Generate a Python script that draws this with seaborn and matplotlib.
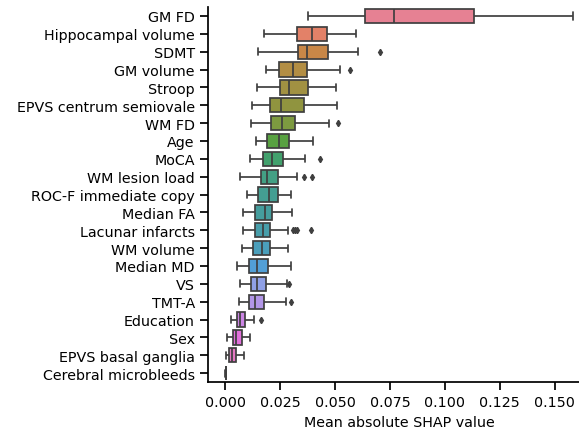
import matplotlib
matplotlib.use("Agg")
import matplotlib.pyplot as plt
import pandas as pd
import seaborn as sns

# Features ordered by importance, with the box-plot summary of their SHAP values
features = [
    "GM FD", "Hippocampal volume", "SDMT", "GM volume", "Stroop",
    "EPVS centrum semiovale", "WM FD", "Age", "MoCA", "WM lesion load",
    "ROC-F immediate copy", "Median FA", "Lacunar infarcts", "WM volume",
    "Median MD", "VS", "TMT-A", "Education", "Sex", "EPVS basal ganglia",
    "Cerebral microbleeds",
]
whisker_low = [0.0378, 0.0176, 0.0150, 0.0185, 0.0145, 0.0120, 0.0117, 0.0140,
               0.0114, 0.0068, 0.0097, 0.0082, 0.0079, 0.0077, 0.0053, 0.0068,
               0.0061, 0.0027, 0.0009, 0.0002, 0.0000]
q1 = [0.0635, 0.0327, 0.0330, 0.0245, 0.0250, 0.0202, 0.0207, 0.0191,
      0.0171, 0.0162, 0.0149, 0.0136, 0.0135, 0.0127, 0.0109, 0.0116,
      0.0108, 0.0052, 0.0034, 0.0017, 0.0001]
median = [0.0767, 0.0395, 0.0370, 0.0309, 0.0288, 0.0253, 0.0259, 0.0245,
          0.0211, 0.0190, 0.0197, 0.0182, 0.0173, 0.0168, 0.0144, 0.0143,
          0.0135, 0.0068, 0.0050, 0.0028, 0.0002]
q3 = [0.1132, 0.0462, 0.0467, 0.0373, 0.0377, 0.0358, 0.0315, 0.0291,
      0.0264, 0.0240, 0.0240, 0.0212, 0.0203, 0.0203, 0.0193, 0.0184,
      0.0177, 0.0088, 0.0075, 0.0049, 0.0003]
whisker_high = [0.1582, 0.0593, 0.0603, 0.0524, 0.0503, 0.0508, 0.0471, 0.0400,
                0.0361, 0.0325, 0.0299, 0.0303, 0.0287, 0.0285, 0.0299, 0.0281,
                0.0276, 0.0132, 0.0112, 0.0086, 0.0005]
outliers = [[], [], [0.0706], [0.0570], [], [], [0.0511], [],
            [0.0430], [0.0360, 0.0393], [], [], [0.0310, 0.0318, 0.0325, 0.0391],
            [], [], [0.0290], [0.0300], [0.0162], [], [], []]


def summary_sample(lo, a, m, b, hi, extra):
    """Sample whose quartiles, whiskers and fliers equal the given summary."""
    j = len(extra) + 1
    return [lo] + [a] * j + [m] * j + [b] * j + [hi] * (j - len(extra)) + list(extra)


rows = []
for i, name in enumerate(features):
    vals = summary_sample(whisker_low[i], q1[i], median[i], q3[i],
                          whisker_high[i], outliers[i])
    rows += [(name, v) for v in vals]
df = pd.DataFrame(rows, columns=["feature", "shap"])

sns.set_theme(style="ticks", context="notebook",
              rc={"text.color": "black", "axes.labelcolor": "black",
                  "xtick.color": "black", "ytick.color": "black",
                  "axes.edgecolor": "black",
                  "xtick.labelsize": 10.3, "ytick.labelsize": 10.3,
                  "axes.labelsize": 10.3})
fig = plt.figure(figsize=(5.79, 4.35), dpi=100)
ax = fig.add_axes([208 / 579, 52 / 435, 382 / 579, 375 / 435])

line_grey = "#3f3f3f"
sns.boxplot(data=df, x="shap", y="feature", hue="feature", order=features,
            palette="husl", legend=False, linewidth=1.25, linecolor=line_grey,
            fliersize=3.2,
            flierprops=dict(marker="d", markerfacecolor=line_grey,
                            markeredgecolor=line_grey),
            ax=ax)
ax.set_xlabel("Mean absolute SHAP value")
ax.set_ylabel("")
ax.set_xticks([0.0, 0.025, 0.05, 0.075, 0.1, 0.125, 0.15])
ax.set_xticklabels(["0.000", "0.025", "0.050", "0.075", "0.100", "0.125", "0.150"])
sns.despine(ax=ax)

fig.savefig("out.png", dpi=100)
